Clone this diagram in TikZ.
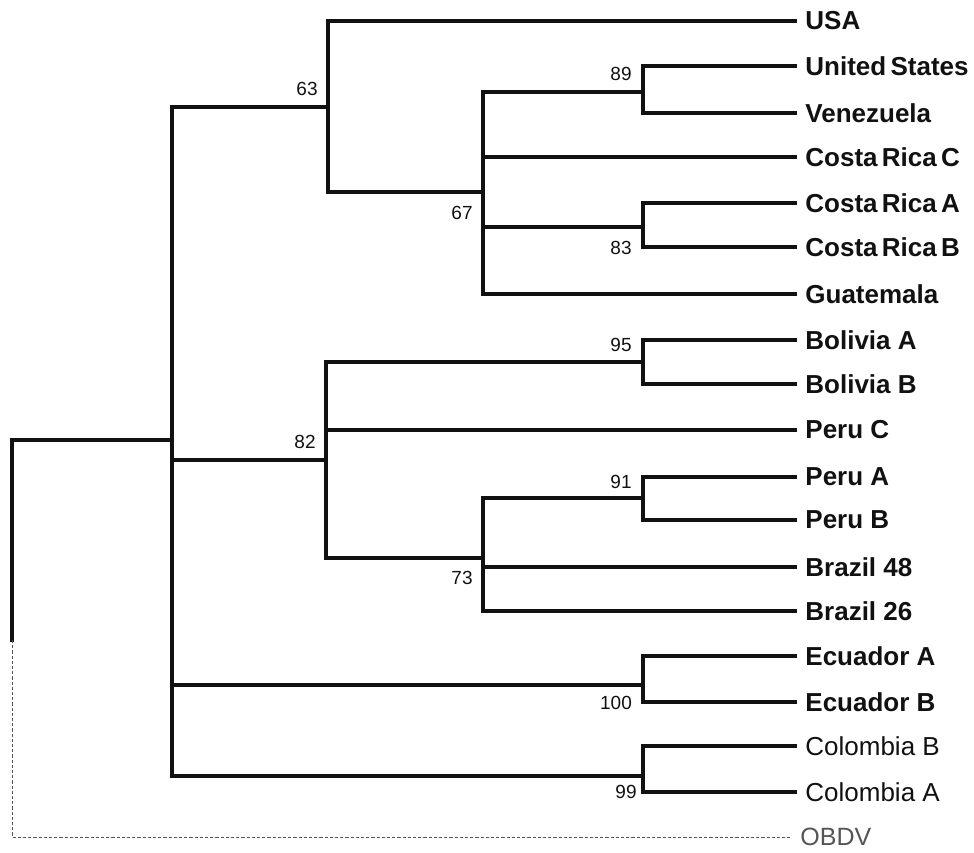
\documentclass[tikz,border=0pt]{standalone}
\usepackage{fontspec}
\setmainfont{Liberation Sans}
\usepackage{xcolor}
\usepackage{tikz}
\usetikzlibrary{positioning}
\definecolor{treeline}{HTML}{111111}
\definecolor{outline}{HTML}{555555}
\definecolor{inktext}{HTML}{111111}
\tikzset{
  branch/.style={draw=treeline, line width=1.6pt, line cap=rect},
  outbranch/.style={draw=outline, line width=.45pt, dash pattern=on 1.6pt off 1pt},
  leaf/.style={anchor=west, inner xsep=5pt, inner ysep=0pt, font=\fontsize{13}{15}\selectfont\bfseries, text=inktext},
  leafreg/.style={leaf, font=\fontsize{13}{15}\selectfont},
  outleaf/.style={leaf, font=\fontsize{12.5}{15}\selectfont, text=outline},
  bs/.style={inner sep=0pt, font=\fontsize{9.5}{11}\selectfont, text=inktext}
}
\begin{document}
\begin{tikzpicture}[x=0.5pt, y=-0.5pt]
  \useasboundingbox (0,0) rectangle (974,852);

  % taxa
  \node[leaf] (usa)   at (795,21)  {USA};
  \node[leaf] (us)    at (795,66)  {United\,States};
  \node[leaf] (ven)   at (795,113) {Venezuela};
  \node[leaf] (crc)   at (795,157) {Costa\,Rica\,C};
  \node[leaf] (cra)   at (795,203) {Costa\,Rica\,A};
  \node[leaf] (crb)   at (795,247) {Costa\,Rica\,B};
  \node[leaf] (gua)   at (795,294) {Guatemala};
  \node[leaf] (bola)  at (795,340) {Bolivia A};
  \node[leaf] (bolb)  at (795,384) {Bolivia B};
  \node[leaf] (peruc) at (795,430) {Peru C};
  \node[leaf] (perua) at (795,477) {Peru A};
  \node[leaf] (perub) at (795,520) {Peru B};
  \node[leaf] (bra48) at (795,567) {Brazil 48};
  \node[leaf] (bra26) at (795,611) {Brazil 26};
  \node[leaf] (ecua)  at (795,656) {Ecuador A};
  \node[leaf] (ecub)  at (795,702) {Ecuador B};
  \node[leafreg] (colb) at (795,746) {Colombia B};
  \node[leafreg] (cola) at (795,792) {Colombia A};
  \node[outleaf] (obdv) at (790,837) {OBDV};

  % internal nodes
  \coordinate (root)  at (12,440);
  \coordinate (rootb) at (12,640);
  \coordinate (ingrp) at (172,440);
  \coordinate (n63)   at (328,107);
  \coordinate (n67)   at (483,192);
  \coordinate (n89)   at (643,92);
  \coordinate (n83)   at (643,227);
  \coordinate (n82)   at (326,460);
  \coordinate (n95)   at (643,362);
  \coordinate (n73)   at (483,558);
  \coordinate (n91)   at (643,498);
  \coordinate (n100)  at (643,685);
  \coordinate (n99)   at (643,776);

  % bootstrap values
  \node[bs] (bs63)  at (307,89)  {63};
  \node[bs] (bs67)  at (462,213) {67};
  \node[bs] (bs89)  at (621,74)  {89};
  \node[bs] (bs83)  at (621,248) {83};
  \node[bs] (bs82)  at (305,442) {82};
  \node[bs] (bs95)  at (621,345) {95};
  \node[bs] (bs91)  at (621,482) {91};
  \node[bs] (bs73)  at (462,578) {73};
  \node[bs] (bs100) at (616,703) {100};
  \node[bs] (bs99)  at (626,792) {99};

  % branches
  \draw[branch] (rootb) -- (root) -- (ingrp);
  \draw[outbranch] (rootb) |- (obdv.west);
  \draw[branch] (ingrp) |- (n63);
  \draw[branch] (ingrp) |- (n82);
  \draw[branch] (ingrp) |- (n100);
  \draw[branch] (ingrp) |- (n99);

  \draw[branch] (n63) |- (usa.west);
  \draw[branch] (n63) |- (n67);
  \draw[branch] (n67) |- (n89);
  \draw[branch] (n67) |- (crc.west);
  \draw[branch] (n67) |- (n83);
  \draw[branch] (n67) |- (gua.west);
  \draw[branch] (n89) |- (us.west);
  \draw[branch] (n89) |- (ven.west);
  \draw[branch] (n83) |- (cra.west);
  \draw[branch] (n83) |- (crb.west);

  \draw[branch] (n82) |- (n95);
  \draw[branch] (n82) |- (peruc.west);
  \draw[branch] (n82) |- (n73);
  \draw[branch] (n95) |- (bola.west);
  \draw[branch] (n95) |- (bolb.west);
  \draw[branch] (n73) |- (n91);
  \draw[branch] (n73) |- (bra48.west);
  \draw[branch] (n73) |- (bra26.west);
  \draw[branch] (n91) |- (perua.west);
  \draw[branch] (n91) |- (perub.west);

  \draw[branch] (n100) |- (ecua.west);
  \draw[branch] (n100) |- (ecub.west);
  \draw[branch] (n99) |- (colb.west);
  \draw[branch] (n99) |- (cola.west);
\end{tikzpicture}
\end{document}
